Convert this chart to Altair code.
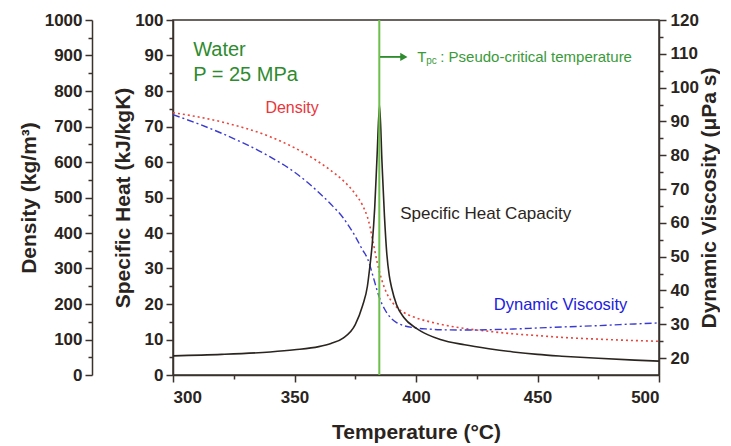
import altair as alt
import pandas as pd

# ---- data (water, P = 25 MPa) ----
temps = [300, 320, 340, 350, 360, 365, 370, 375, 378, 380, 381, 382, 383, 384, 385,
         386, 387, 388, 389, 390, 392, 395, 400, 405, 410, 420, 430, 440, 450, 460,
         475, 490, 500]
cp = [5.4, 5.8, 6.5, 7.1, 8.0, 8.9, 10.4, 14.2, 19.5, 25.0, 30.5, 37.0, 47.0, 62.0, 76.0,
      60.0, 45.0, 34.0, 28.0, 24.5, 19.8, 16.2, 13.2, 11.3, 10.0, 8.5, 7.4, 6.5, 5.8, 5.3,
      4.7, 4.2, 3.9]
rho = [739, 713, 671, 640, 600, 576, 548, 510, 478, 445, 420, 385, 352, 318, 290,
       266, 246, 230, 217, 207, 191, 176, 161, 151, 143, 131, 123, 116, 111, 106,
       101, 97, 95]
mu = [92.0, 86.5, 79.5, 75.0, 69.0, 65.5, 61.5, 56.0, 52.0, 49.5, 47.5, 45.0, 42.5, 40.0, 37.8,
      36.0, 34.6, 33.4, 32.4, 31.6, 30.5, 29.6, 28.9, 28.6, 28.4, 28.3, 28.4, 28.6, 28.9, 29.2,
      29.6, 30.1, 30.4]

t_pc = [384.9]

df = pd.DataFrame({"T": temps, "cp": cp, "rho": rho, "mu": mu})

FONT = "Liberation Sans"
AX = "#3a322c"
LAB = "#2a2420"
GREEN_TXT = "#2e8b2e"


def tick_size(step):
    return {"condition": {"test": f"datum.value % {step} === 0", "value": 7}, "value": 4}


def lab_expr(step):
    return f"datum.value % {step} === 0 ? format(datum.value, 'd') : ''"


common_axis = dict(
    domainColor=AX, domainWidth=1.5, tickColor=AX, tickWidth=1.5,
    labelFont=FONT, labelFontSize=17, labelFontWeight="bold", labelColor=LAB,
    titleFont=FONT, titleFontSize=21, titleFontWeight="bold", titleColor=LAB,
    grid=False, labelOverlap=False,
)

x_enc = alt.X(
    "T:Q",
    scale=alt.Scale(domain=[300, 500], nice=False, zero=False),
    axis=alt.Axis(title="Temperature (°C)", values=list(range(300, 501, 25)),
                  labelExpr=lab_expr(50), tickSize=tick_size(50), titlePadding=16,
                  labelPadding=7, **common_axis),
)

base = alt.Chart(df)

cp_line = base.mark_line(color="#2b2520", strokeWidth=1.6, interpolate="monotone").encode(
    x=x_enc,
    y=alt.Y("cp:Q", scale=alt.Scale(domain=[0, 100], nice=False),
            axis=alt.Axis(orient="left", title="Specific Heat (kJ/kgK)",
                          values=list(range(0, 101, 5)), labelExpr=lab_expr(10),
                          tickSize=tick_size(10), titlePadding=1, labelPadding=3,
                          **common_axis)),
)

rho_line = base.mark_line(color="#e8463c", strokeWidth=1.6, strokeDash=[2, 3],
                          interpolate="monotone").encode(
    x=x_enc,
    y=alt.Y("rho:Q", scale=alt.Scale(domain=[0, 1000], nice=False),
            axis=alt.Axis(orient="left", offset=81, title="Density (kg/m³)",
                          values=list(range(0, 1001, 50)), labelExpr=lab_expr(100),
                          tickSize=tick_size(100), titlePadding=5, labelPadding=3,
                          **common_axis)),
)

mu_line = base.mark_line(color="#3a3ad0", strokeWidth=1.4, strokeDash=[7, 3, 2, 3],
                         interpolate="monotone").encode(
    x=x_enc,
    y=alt.Y("mu:Q", scale=alt.Scale(domain=[15, 120], nice=False, zero=False),
            axis=alt.Axis(orient="right", title="Dynamic Viscosity (μPa s)",
                          values=list(range(20, 121, 5)), labelExpr=lab_expr(10),
                          tickSize=tick_size(10), titleAngle=270, titleBaseline="top",
                          titlePadding=0, labelPadding=4, **common_axis)),
)

pc_rule = alt.Chart(pd.DataFrame({"T": t_pc})).mark_rule(
    color="#6cbf4a", strokeWidth=2).encode(x=x_enc)

y_ann = lambda: alt.Y("cp:Q", scale=alt.Scale(domain=[0, 100], nice=False), axis=None)

arrow = alt.Chart(pd.DataFrame({"T": [385.2], "T2": [394.5], "cp": [89.6]})).mark_rule(
    color=GREEN_TXT, strokeWidth=1.8).encode(x=x_enc, x2="T2:Q", y=y_ann())
arrow_head = alt.Chart(pd.DataFrame({"T": [395.0], "cp": [89.6]})).mark_point(
    shape="triangle-right", filled=True, size=70, color=GREEN_TXT, opacity=1).encode(
    x=x_enc, y=y_ann())


def text_layer(label, t, c, color, size, align="left", dx=0, dy=0, weight="normal"):
    return alt.Chart(pd.DataFrame({"T": [t], "cp": [c], "label": [label]})).mark_text(
        font=FONT, fontSize=size, color=color, align=align, baseline="middle",
        dx=dx, dy=dy, fontWeight=weight).encode(x=x_enc, y=y_ann(), text="label:N")


texts = [
    text_layer("Water", 308.3, 91.6, GREEN_TXT, 20),
    text_layer("P = 25 MPa", 308.3, 84.6, GREEN_TXT, 20),
    text_layer("T", 400.5, 89.6, "#3a9a3a", 15),
    text_layer("pc", 400.5, 89.6, "#3a9a3a", 10, dx=9, dy=4),
    text_layer(": Pseudo-critical temperature", 400.5, 89.6, "#3a9a3a", 15, dx=23),
    text_layer("Density", 349.0, 75.3, "#e8363c", 16, align="center"),
    text_layer("Specific Heat Capacity", 428.7, 45.4, "#2b2520", 17, align="center"),
    text_layer("Dynamic Viscosity", 459.5, 19.6, "#2020e0", 16.5, align="center"),
]

chart = alt.layer(rho_line, mu_line, cp_line, pc_rule, arrow, arrow_head, *texts).resolve_scale(
    y="independent"
).properties(
    width=486, height=355,
    padding={"left": 10, "top": 3, "right": 0, "bottom": 3},
    background="white",
).configure_view(stroke=AX, strokeWidth=1.5)

chart.save("out.html", embed_options={"renderer": "svg", "actions": False})
